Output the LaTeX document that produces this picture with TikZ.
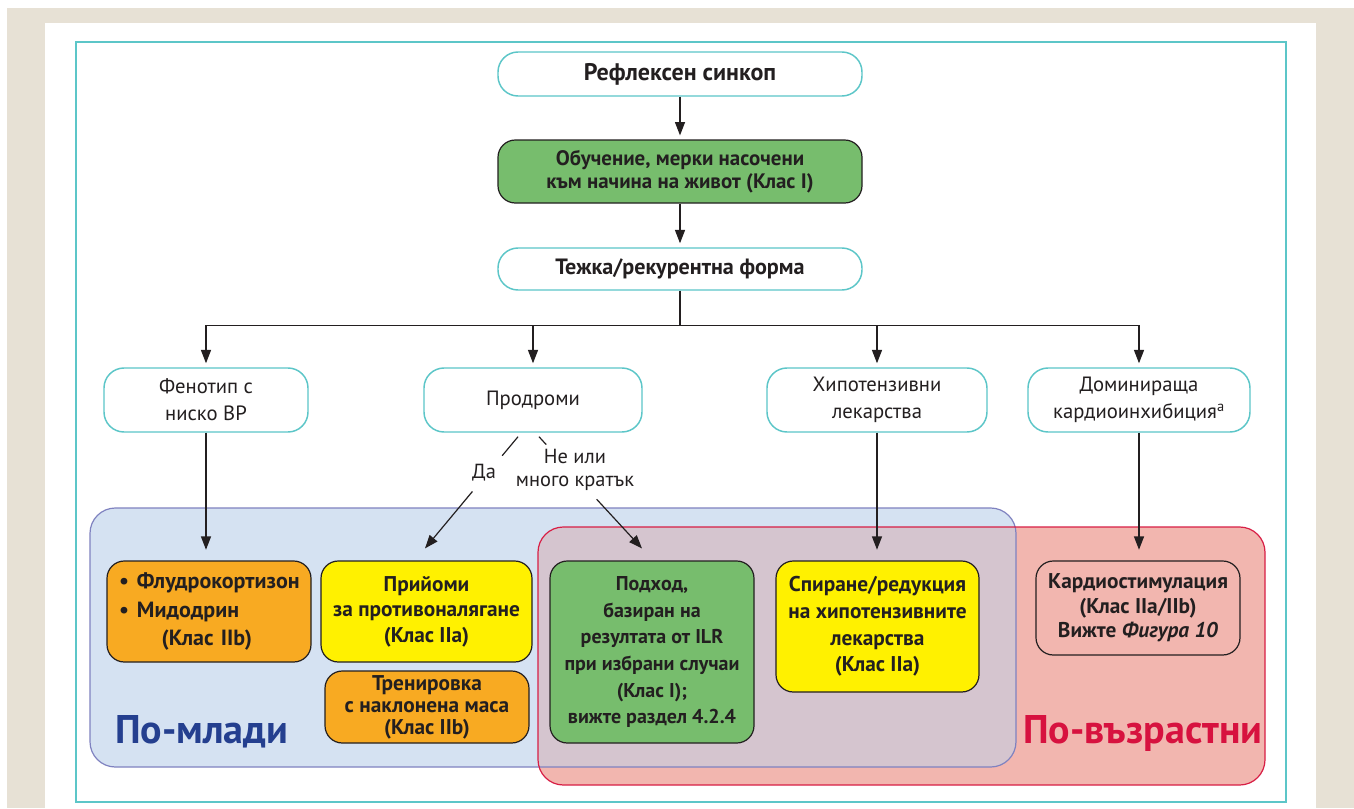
\documentclass[tikz,border=0pt]{standalone}
\usepackage{fontspec}
\setmainfont{PT Sans}
\usetikzlibrary{arrows.meta,calc}

\definecolor{beige}{HTML}{E7E1D5}
\definecolor{tealc}{HTML}{5CC6C8}
\definecolor{inkc}{HTML}{231F20}
\definecolor{greenc}{HTML}{77BD6D}
\definecolor{orangec}{HTML}{F8AA22}
\definecolor{yellowc}{HTML}{FFF100}
\definecolor{bluefill}{HTML}{D5E2F2}
\definecolor{bluedraw}{HTML}{7F82C0}
\definecolor{redfill}{HTML}{F2B6AF}
\definecolor{reddraw}{HTML}{D81E45}
\definecolor{overlapc}{HTML}{D5C5CF}
\definecolor{bluelab}{HTML}{243F8F}
\definecolor{redlab}{HTML}{D7123F}

\tikzset{
  tealbox/.style={draw=tealc, line width=1.1pt, fill=white, rounded corners=15pt,
    align=center, inner sep=0pt, text=inkc, font=\fontsize{15.5}{20}\selectfont},
  stepbox/.style={draw=inkc, line width=0.9pt, rounded corners=13pt, align=center,
    inner sep=0pt, text=inkc, font=\bfseries\fontsize{16}{20}\selectfont},
  con/.style={draw=inkc, line width=0.9pt},
  arr/.style={con, -{Triangle[length=10pt,width=7.5pt]}, shorten >=3pt},
  lbl/.style={text=inkc, align=center, inner sep=0pt, font=\fontsize{15.3}{17}\selectfont},
  group/.style={line width=0.9pt, rounded corners=19pt},
  grouplabel/.style={anchor=base west, inner sep=0pt, font=\bfseries\fontsize{30}{32}\selectfont}
}

\begin{document}
\begin{tikzpicture}[x=0.75pt,y=-0.75pt]
\useasboundingbox (0,0) rectangle (1354,808);
% page background and panel
\fill[white] (0,0) rectangle (1354,808);
\fill[beige] (7,8) rectangle (1354,808);
\fill[white] (45,23) rectangle (1316,808);
\draw[tealc, line width=2pt] (76,42) rectangle (1286,802);

% age groups
\fill[bluefill, rounded corners=19pt] (90,508) rectangle (1016,767);
\fill[redfill, rounded corners=19pt] (538,527) rectangle (1265,785);
\begin{scope}
  \clip[rounded corners=19pt] (90,508) rectangle (1016,767);
  \fill[overlapc, rounded corners=19pt] (538,527) rectangle (1265,785);
\end{scope}
\draw[group, draw=bluedraw] (90,508) rectangle (1016,767);
\draw[group, draw=reddraw] (538,527) rectangle (1265,785);
\node[grouplabel, text=bluelab] (young) at (115,743) {По-млади};
\node[grouplabel, text=redlab] (old) at (1023,743) {По-възрастни};

% top chain
\node[tealbox, minimum width=273pt, minimum height=33pt,
  font=\bfseries\fontsize{18}{20}\selectfont] (refl) at (680,74) {Рефлексен синкоп};
\node[stepbox, fill=greenc, minimum width=273pt, minimum height=47.25pt,
  font=\bfseries\fontsize{15.7}{17.3}\selectfont] (edu) at (680,171.5)
  {Обучение, мерки насочени\\към начина на живот (Клас I)};
\node[tealbox, minimum width=273pt, minimum height=31.5pt,
  font=\bfseries\fontsize{16.6}{20}\selectfont] (sev) at (680,269) {Тежка/рекурентна форма};

% second row
\node[tealbox, minimum width=153pt, minimum height=48pt] (fen) at (206,400) {Фенотип с\\ниско ВР};
\node[tealbox, minimum width=163.5pt, minimum height=48pt] (prod) at (533,400) {Продроми};
\node[tealbox, minimum width=165pt, minimum height=48pt] (hyp) at (877,400) {Хипотензивни\\лекарства};
\node[tealbox, minimum width=166.5pt, minimum height=48pt] (dom) at (1139,400) {Доминираща\\кардиоинхибиция\textsuperscript{a}};

% treatment boxes
\node[stepbox, fill=orangec, minimum width=153pt, minimum height=75.75pt,
  text width=135pt, align=left, font=\bfseries\fontsize{16.5}{21.4}\selectfont] (fludro) at (209,611.5)
  {\makebox[13.5pt][l]{\textbullet}Флудрокортизон\\
   \makebox[13.5pt][l]{\textbullet}Мидодрин\\
   \hspace*{32pt}(Клас IIb)};
\node[stepbox, fill=yellowc, minimum width=158.25pt, minimum height=75.75pt,
  font=\bfseries\fontsize{16}{19}\selectfont] (maneuv) at (426.5,611.5)
  {Прийоми\\за противоналягане\\(Клас IIa)};
\node[stepbox, fill=orangec, minimum width=153pt, minimum height=54pt,
  font=\bfseries\fontsize{16}{16.5}\selectfont] (tilt) at (427,707)
  {Тренировка\\с наклонена маса\\(Клас IIb)};
\node[stepbox, fill=greenc, minimum width=153pt, minimum height=136.5pt,
  font=\bfseries\fontsize{15}{20}\selectfont] (ilr) at (652,652)
  {Подход,\\базиран на\\резултата от ILR\\при избрани случаи\\(Клас I);\\вижте раздел 4.2.4};
\node[stepbox, fill=yellowc, minimum width=152.25pt, minimum height=98.25pt] (stop) at (877.5,626.5)
  {Спиране/редукция\\на хипотензивните\\лекарства\\(Клас IIa)};
\node[stepbox, minimum width=153pt, minimum height=70.5pt,
  font=\bfseries\fontsize{16}{18.5}\selectfont] (pace) at (1138,608)
  {Кардиостимулация\\(Клас IIa/IIb)\\Вижте \textit{Фигура 10}};

% connectors
\draw[arr] (refl) -- (edu);
\draw[arr] (edu) -- (sev);
\draw[con] (sev.south) -- ++(0,35) coordinate (hub);
\draw[arr] (hub) -| (fen.north);
\draw[arr] (hub) -| (prod.north);
\draw[arr] (hub) -| (hyp.north);
\draw[arr] (hub) -| (dom.north);

\draw[arr, shorten >=8pt] (fen.south) -- (fen.south |- fludro.north);
\draw[arr, shorten >=8pt] (hyp.south) -- (hyp.south |- stop.north);
\draw[arr, shorten >=8pt] (dom.south) -- (dom.south |- pace.north);

% prodrome branches, interrupted by their labels
\coordinate (yA) at ($(prod.south)+(-15,4)$);
\coordinate (yB) at ($(maneuv.north)+(-1.5,-12)$);
\coordinate (nA) at ($(prod.south)+(6,4)$);
\coordinate (nB) at ($(ilr.north)+(-10,-12)$);
\node[lbl] (yes) at (484,473) {Да};
\node[lbl] (no) at (575,470) {Не или\\много кратък};
\draw[con] (yA) -- ($(yA)!0.17!(yB)$);
\draw[con, -{Triangle[length=10pt,width=7.5pt]}] ($(yA)!0.49!(yB)$) -- (yB);
\draw[con] (nA) -- ($(nA)!0.07!(nB)$);
\draw[con, -{Triangle[length=10pt,width=7.5pt]}] ($(nA)!0.56!(nB)$) -- (nB);
\end{tikzpicture}
\end{document}
